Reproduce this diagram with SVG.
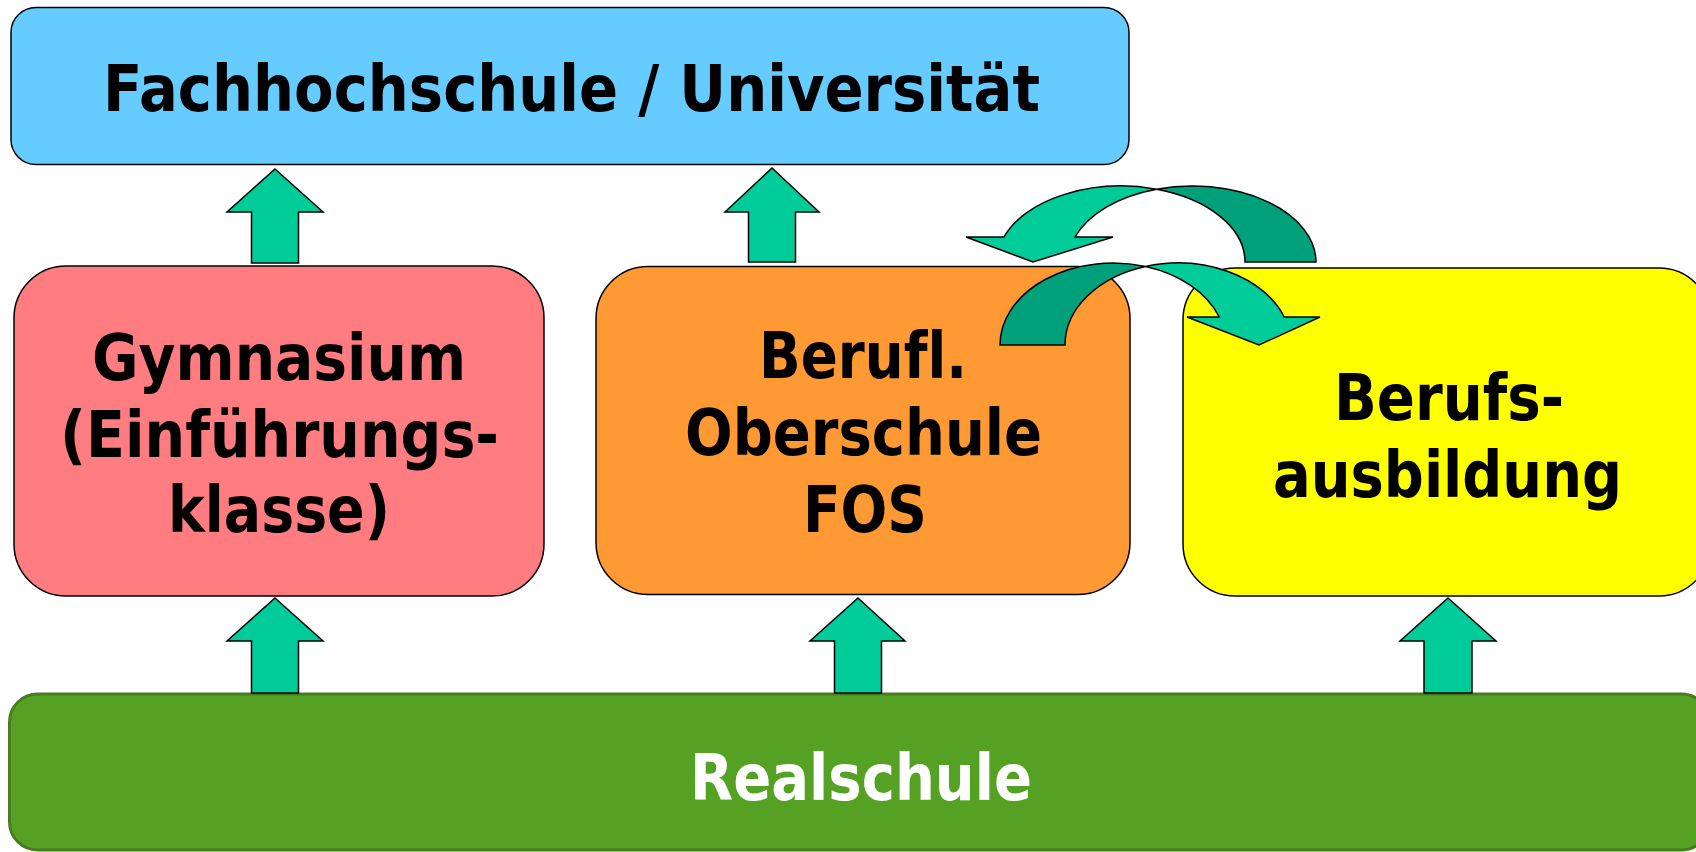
<svg xmlns="http://www.w3.org/2000/svg" width="1696" height="852" viewBox="0 0 1696 852">
<style>
.box{stroke:#000;stroke-width:1.5}
.t{font-family:"DejaVu Sans","Liberation Sans",sans-serif;font-weight:bold;font-size:64px;fill:#000;text-anchor:middle;font-variant-ligatures:none;font-feature-settings:"liga" 0}
.w{fill:#fff}
.arr{fill:#00CC99;stroke:#000;stroke-width:1.5;stroke-linejoin:miter}
.dk{fill:#00A07A;stroke:#000;stroke-width:1.5}
</style>
<rect width="1696" height="852" fill="#fff"/>
<g id="fh">
<rect class="box" x="11" y="7.5" width="1118" height="157" rx="25" fill="#66CCFF"/>
<text class="t" x="571.5" y="111" textLength="937" lengthAdjust="spacingAndGlyphs">Fachhochschule / Universität</text>
</g>
<g id="gym">
<rect class="box" x="14" y="266" width="530" height="330" rx="52" fill="#FF7C80"/>
<text class="t" x="279" y="380" textLength="374" lengthAdjust="spacingAndGlyphs">Gymnasium</text>
<text class="t" x="279.5" y="457" textLength="439" lengthAdjust="spacingAndGlyphs">(Einführungs-</text>
<text class="t" x="279" y="532" textLength="222" lengthAdjust="spacingAndGlyphs">klasse)</text>
</g>
<g id="fos">
<rect class="box" x="596" y="266.5" width="534" height="328" rx="52" fill="#FF9933"/>
<text class="t" x="863" y="378" textLength="208" lengthAdjust="spacingAndGlyphs">Berufl.</text>
<text class="t" x="863.5" y="455" textLength="357" lengthAdjust="spacingAndGlyphs">Oberschule</text>
<text class="t" x="865" y="532" textLength="124" lengthAdjust="spacingAndGlyphs">FOS</text>
</g>
<g id="ausb">
<rect class="box" x="1183" y="268" width="528" height="328" rx="52" fill="#FFFF00"/>
<text class="t" x="1449" y="420" textLength="230" lengthAdjust="spacingAndGlyphs">Berufs-</text>
<text class="t" x="1447.5" y="497" textLength="349" lengthAdjust="spacingAndGlyphs">ausbildung</text>
</g>
<g id="real">
<rect x="9.5" y="694" width="1700" height="156" rx="28" fill="#54A123" stroke="#4A7C1F" stroke-width="3"/>
<text class="t w" x="861" y="800" textLength="342" lengthAdjust="spacingAndGlyphs">Realschule</text>
</g>
<g id="connectors">
<polygon class="arr" points="275,169 323,212 298.5,212 298.5,263 251.5,263 251.5,212 227,212"/>
<polygon class="arr" points="772,168 819,212 795.5,212 795.5,262 748.5,262 748.5,212 725,212"/>
<polygon class="arr" points="275,598 323,641 298.5,641 298.5,693 251.5,693 251.5,641 227,641"/>
<polygon class="arr" points="858,598 905,641 881.5,641 881.5,693 834.5,693 834.5,641 810,641"/>
<polygon class="arr" points="1448,598 1496,641 1472,641 1472,693 1424,693 1424,641 1400,641"/>
<path class="dk" d="M1156.5,189.2 A124 76 0 0 1 1316,262 L1245,262 A124 76 0 0 0 1156.5,189.2 Z"/>
<path class="arr" d="M1004,237 A124 76 0 0 1 1156.5,189.2 A124 76 0 0 0 1075,237 L1113,237 L1033,262 L966,237 Z"/>
<path class="dk" d="M1000,345 A113 82 0 0 1 1145.5,266.5 A113 82 0 0 0 1065,345 Z"/>
<path class="arr" d="M1145.5,266.5 A113 82 0 0 1 1284.2,317 L1320,317 L1259,345 L1187,317 L1219.2,317 A113 82 0 0 0 1145.5,266.5 Z"/>
</g>
</svg>
